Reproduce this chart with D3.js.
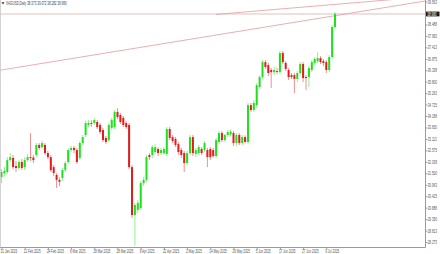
<!DOCTYPE html>
<html><head><meta charset="utf-8">
<script src="https://cdn.jsdelivr.net/npm/d3@7"></script>
<style>html,body{margin:0;padding:0;background:#fff;overflow:hidden}</style>
</head><body><svg id="c" width="440" height="254"></svg>
<script>
// ---- data (XAGUSD daily) ----
const openP  = [31.33,31.50,31.56,32.12,32.22,31.84,31.75,32.03,31.79,32.12,32.26,32.24,32.36,32.83,32.73,32.83,32.45,32.26,31.79,31.42,31.19,31.28,31.65,32.03,32.59,32.69,32.59,32.22,32.92,33.30,33.77,33.86,33.86,33.91,33.77,33.53,33.16,33.06,33.63,33.67,34.38,34.24,34.10,33.86,33.77,31.79,29.54,29.78,29.87,31.04,31.19,32.36,32.36,32.50,32.64,32.45,32.45,32.41,33.58,33.20,33.11,32.87,32.59,32.45,31.98,32.45,33.20,32.41,32.45,32.64,32.59,32.59,32.64,32.59,32.31,32.97,33.39,33.06,33.30,33.32,33.39,32.92,33.30,32.92,33.20,32.97,34.70,34.47,34.70,35.55,36.02,36.72,36.58,36.35,36.25,36.30,36.25,37.15,36.68,36.35,36.11,36.11,35.93,36.21,36.63,36.02,36.02,36.35,36.68,36.77,36.91,36.77,36.72,36.35,36.96,38.37];
const highP  = [31.70,31.80,32.26,32.45,32.36,32.08,32.12,32.17,32.26,32.41,33.39,32.36,32.92,32.92,33.02,32.92,32.55,32.36,31.89,31.51,31.30,31.75,32.08,32.69,32.78,32.78,32.69,33.02,33.30,33.96,34.00,34.00,34.10,34.00,33.86,33.63,33.25,33.86,34.10,34.47,34.56,34.33,34.19,33.96,33.86,31.89,30.11,30.25,31.14,31.33,32.36,32.45,32.83,32.87,32.73,32.70,32.73,33.67,33.67,33.30,33.20,32.97,32.69,32.55,32.55,33.30,33.30,32.69,32.83,32.73,33.02,32.69,32.73,32.69,33.16,33.49,33.49,33.35,33.53,33.56,33.49,33.39,33.39,33.30,33.28,34.80,34.80,34.94,35.74,36.11,36.82,36.82,36.68,36.44,36.49,36.45,37.24,37.24,36.77,36.44,36.21,36.21,36.30,36.72,36.72,36.11,36.54,36.82,36.96,37.19,37.00,36.87,36.82,37.05,38.46,39.07];
const lowP   = [31.04,31.35,31.47,32.03,31.70,31.56,31.65,31.65,31.65,32.03,32.08,31.98,32.26,32.59,32.64,32.36,32.17,31.56,31.37,30.81,30.90,31.14,31.56,31.94,32.50,32.45,31.94,32.12,32.83,33.20,33.67,33.67,33.77,33.58,33.34,32.97,32.87,32.97,33.53,33.58,34.05,33.82,33.67,33.58,31.70,29.40,28.10,29.63,29.78,30.90,31.09,32.12,32.22,32.41,32.31,32.36,32.36,32.31,33.06,32.92,32.73,32.36,32.22,31.56,31.89,32.36,32.31,32.26,32.36,32.36,32.50,31.79,32.12,32.22,32.22,32.87,32.97,32.97,33.20,33.22,32.78,32.78,32.83,32.83,32.90,32.87,34.38,34.38,34.56,35.45,35.93,36.40,36.07,35.50,36.11,36.15,36.16,36.63,36.30,35.88,35.93,35.27,35.79,36.11,35.79,35.41,35.55,36.25,36.58,36.68,36.63,36.54,36.21,36.25,36.87,38.28];
const closeP = [31.56,31.62,32.12,32.26,31.79,31.75,32.03,31.75,32.12,32.26,32.22,32.12,32.83,32.69,32.92,32.45,32.26,31.65,31.51,31.19,31.10,31.65,31.98,32.59,32.69,32.59,32.03,32.92,33.20,33.86,33.86,33.82,34.00,33.67,33.44,33.06,32.97,33.77,34.00,34.38,34.14,33.91,33.77,33.67,31.79,29.54,30.01,30.11,31.04,31.19,32.26,32.26,32.73,32.73,32.45,32.59,32.64,33.58,33.16,33.02,32.83,32.50,32.36,31.98,32.45,33.20,32.45,32.59,32.73,32.45,32.92,32.26,32.26,32.31,33.06,33.39,33.06,33.30,33.44,33.46,32.92,33.30,32.92,33.20,32.97,34.70,34.47,34.80,35.64,36.02,36.72,36.49,36.21,36.25,36.35,36.28,37.15,36.72,36.40,36.02,36.02,35.93,36.21,36.63,35.97,35.97,36.44,36.72,36.87,36.91,36.72,36.68,36.35,36.96,38.37,38.98];
const dateLabels = ["31 Jan 2025","12 Feb 2025","24 Feb 2025","6 Mar 2025","18 Mar 2025","28 Mar 2025","9 Apr 2025","22 Apr 2025","2 May 2025","14 May 2025","26 May 2025","5 Jun 2025","17 Jun 2025","27 Jun 2025","9 Jul 2025"];
const labelEvery = 8;
const priceLabels = ["28.275","28.813","29.350","29.888","30.425","30.963","31.500","32.038","32.575","33.113","33.650","34.188","34.725","35.263","35.800","36.338","36.875","37.413","37.950","38.488","39.563"];
const lastPrice = 38.98, lastLabel = "38.980";
const headerText = "XAGUSD,Daily  38.373 39.072 38.282 38.980";
const trendA = [[0,36.35],[115,38.90]];
const trendB = [[74,38.96],[115,39.43]];

// ---- drawing ----
const W=440,H=254, plotR=425.5, plotB=247.5;
const FONT="Liberation Sans, Arial, sans-serif", FS=4.6, SX=0.66;
const svg=d3.select("#c");
const n=openP.length;
const x=d3.scaleLinear().domain([0,n-1]).range([1.5,335]);
const y=d3.scaleLinear().domain([28.04,39.636]).range([247,0]);
const upC="#1ee01e", dnC="#e41b1b";

svg.append("rect").attr("width",W).attr("height",H).attr("fill","#fff");
svg.append("defs").append("clipPath").attr("id","pc").append("rect").attr("x",0).attr("y",0).attr("width",plotR).attr("height",plotB);
const g=svg.append("g").attr("clip-path","url(#pc)");

// price (bid) line
g.append("line").attr("x1",0).attr("x2",plotR).attr("y1",y(lastPrice)).attr("y2",y(lastPrice))
 .attr("stroke","#dcbaba").attr("stroke-width",0.9);

function ray(pts,both){
  const [a,b]=pts; const x1=x(a[0]),y1=y(a[1]),x2=x(b[0]),y2=y(b[1]);
  const s=(y2-y1)/(x2-x1); const xs=both?0:x1;
  return {x1:xs,y1:y1+s*(xs-x1),x2:plotR,y2:y1+s*(plotR-x1)};
}
[ray(trendA,true),ray(trendB,false)].forEach(l=>{
  g.append("line").attr("x1",l.x1).attr("y1",l.y1).attr("x2",l.x2).attr("y2",l.y2)
   .attr("stroke","#e59a9a").attr("stroke-width",0.8);
});

const idx=d3.range(n);
g.selectAll("line.w").data(idx).join("line").attr("class","w")
 .attr("x1",i=>x(i)).attr("x2",i=>x(i)).attr("y1",i=>y(highP[i])).attr("y2",i=>y(lowP[i]))
 .attr("stroke",i=>closeP[i]>=openP[i]?upC:dnC).attr("stroke-width",0.9).attr("stroke-opacity",0.55);
g.selectAll("rect.b").data(idx).join("rect").attr("class","b")
 .attr("x",i=>x(i)-1).attr("width",2)
 .attr("y",i=>Math.min(y(openP[i]),y(closeP[i])))
 .attr("height",i=>Math.max(0.9,Math.abs(y(openP[i])-y(closeP[i]))))
 .attr("fill",i=>closeP[i]>=openP[i]?upC:dnC);

// axes
const yVals=priceLabels.map(Number);
const ya=d3.axisRight(y).tickValues(yVals).tickFormat((d,i)=>priceLabels[i]).tickSize(2).tickPadding(1);
const yg=svg.append("g").attr("transform",`translate(${plotR},0)`).call(ya);
yg.select(".domain").attr("d",`M0,0V${plotB}`).attr("stroke","#9a9a9a");
yg.selectAll(".tick line").attr("stroke","#9a9a9a");
yg.selectAll("text").attr("x",2.2/SX).attr("transform",`scale(${SX},1)`)
  .attr("font-family",FONT).attr("font-size",FS).attr("fill","#555");

const xVals=dateLabels.map((d,i)=>i*labelEvery);
const xa=d3.axisBottom(x).tickValues(xVals).tickFormat((d,i)=>dateLabels[i]).tickSize(2).tickPadding(0.5);
const xg=svg.append("g").attr("transform",`translate(0,${plotB})`).call(xa);
xg.select(".domain").attr("d",`M0,0H${plotR}`).attr("stroke","#9a9a9a");
xg.selectAll(".tick line").attr("stroke","#9a9a9a");
xg.selectAll("text").attr("text-anchor","start").attr("x",-1.5/SX).attr("dy","0.55em").attr("transform",`scale(${SX},1)`)
  .attr("font-family",FONT).attr("font-size",FS).attr("fill","#555");

// left border
svg.append("line").attr("x1",0.5).attr("x2",0.5).attr("y1",0).attr("y2",plotB).attr("stroke","#c8c8c8").attr("stroke-width",0.8);

// current price label
const py=y(lastPrice);
svg.append("rect").attr("x",426).attr("y",py-2.4).attr("width",13.5).attr("height",4.8).attr("fill","#1a1a1a");
svg.append("text").attr("transform",`translate(427.3,${py}) scale(${SX},1)`).attr("dy","0.35em").text(lastLabel)
  .attr("font-family",FONT).attr("font-size",FS).attr("fill","#fff");

// header
svg.append("path").attr("d","M1.5,2.2 L4.5,2.2 L3,4.4 Z").attr("fill","#333");
svg.append("text").attr("transform",`translate(6,3.4) scale(${SX},1)`).attr("dy","0.35em").text(headerText)
  .attr("font-family",FONT).attr("font-size",FS).attr("fill","#444");
</script></body></html>
